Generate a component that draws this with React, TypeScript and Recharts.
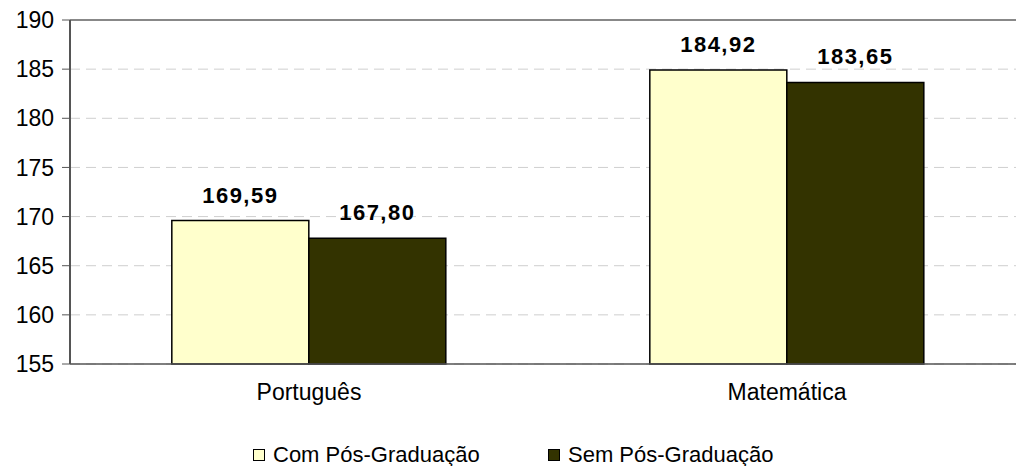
import { BarChart, Bar, XAxis, YAxis, CartesianGrid, LabelList, Legend, ReferenceLine } from 'recharts';

const subjects = ['Português', 'Matemática'];
const comPos = [169.59, 184.92];
const semPos = [167.8, 183.65];
const yTicks = [155, 160, 165, 170, 175, 180, 185, 190];

const data = subjects.map((name, i) => ({ name, com: comPos[i], sem: semPos[i] }));

const fmt = (v: any) => Number(v).toFixed(2).replace('.', ',');

const legendItems = [
  { label: 'Com Pós-Graduação', color: '#ffffcc', x: 253 },
  { label: 'Sem Pós-Graduação', color: '#333300', x: 548 },
];

function LegendBox() {
  return (
    <div style={{ position: 'relative', width: 1016, height: 36 }}>
      {legendItems.map((it) => (
        <div key={it.label} style={{ position: 'absolute', left: it.x, top: 0, display: 'flex', alignItems: 'center' }}>
          <span
            style={{
              display: 'inline-block',
              width: 10,
              height: 10,
              background: it.color,
              border: '1.5px solid #000',
              marginRight: 8,
            }}
          />
          <span style={{ fontSize: 22, color: '#000', fontFamily: 'Liberation Sans, Arial, sans-serif' }}>{it.label}</span>
        </div>
      ))}
    </div>
  );
}

export default function App() {
  return (
    <div style={{ position: 'absolute', left: 0, top: 0, background: '#fff' }}>
      <BarChart
        width={1016}
        height={466}
        data={data}
        margin={{ top: 20, right: -10, bottom: 0, left: 0 }}
        barGap={0}
        barCategoryGap="21.3%"
        style={{ fontFamily: 'Liberation Sans, Arial, sans-serif' }}
      >
        <CartesianGrid vertical={false} stroke="#cfcfcf" strokeDasharray="10 6" />
        <ReferenceLine y={190} stroke="#888" strokeWidth={2} />
        <XAxis
          dataKey="name"
          height={40}
          axisLine={{ stroke: '#555', strokeWidth: 1.5 }}
          tickLine={false}
          tick={{ fill: '#000', fontSize: 23, dy: 12 }}
        />
        <YAxis
          width={70}
          domain={[155, 190]}
          ticks={yTicks}
          interval={0}
          axisLine={{ stroke: '#555', strokeWidth: 2 }}
          tickLine={{ stroke: '#555' }}
          tickSize={8}
          tick={{ fill: '#000', fontSize: 23, dx: -6 }}
        />
        <Legend verticalAlign="bottom" height={62} wrapperStyle={{ left: 0, top: 442 }} content={() => <LegendBox />} />
        <Bar dataKey="com" name="Com Pós-Graduação" fill="#ffffcc" stroke="#000" strokeWidth={1.5} isAnimationActive={false}>
          <LabelList dataKey="com" position="top" offset={18} formatter={fmt} style={{ fontSize: 22, fontWeight: 'bold', fill: '#000', letterSpacing: 1.5 }} />
        </Bar>
        <Bar dataKey="sem" name="Sem Pós-Graduação" fill="#333300" stroke="#000" strokeWidth={1.5} isAnimationActive={false}>
          <LabelList dataKey="sem" position="top" offset={18} formatter={fmt} style={{ fontSize: 22, fontWeight: 'bold', fill: '#000', letterSpacing: 1.5 }} />
        </Bar>
      </BarChart>
    </div>
  );
}
